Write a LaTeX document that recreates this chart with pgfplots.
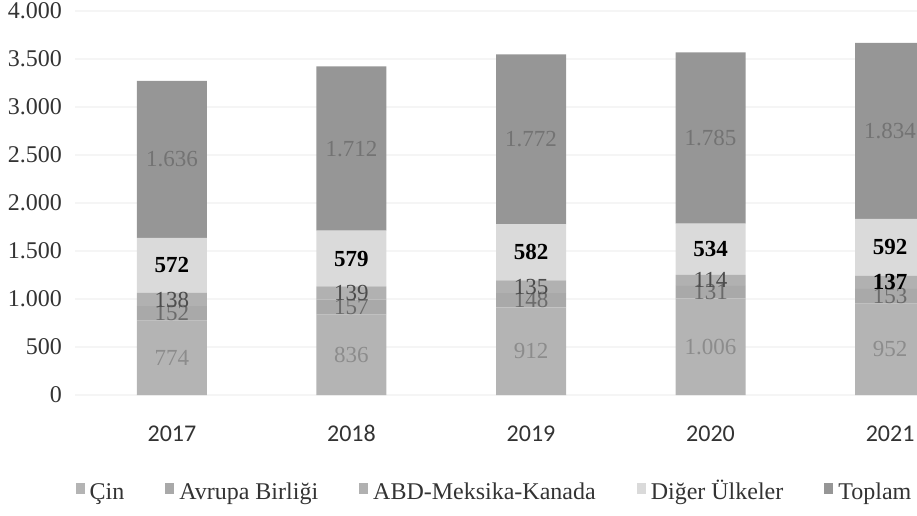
\documentclass[border=0pt]{standalone}
\usepackage{pgfplots}
\pgfplotsset{compat=1.18}
\usepackage{fontspec}
\setmainfont{Liberation Serif}
\newfontfamily\yearfont{Carlito}
\definecolor{cCin}{HTML}{B4B4B4}
\definecolor{cAB}{HTML}{A9A9A9}
\definecolor{cABD}{HTML}{B1B1B1}
\definecolor{cDiger}{HTML}{DADADA}
\definecolor{cTop}{HTML}{969696}
\pgfplotsset{
  /pgf/number format/1000 sep={.},
  /pgf/number format/assume math mode=true,
  commonaxis/.style={
    at={(37.5pt,60pt)}, anchor=south west,
    scale only axis, width=421pt, height=192pt,
    xmin=-0.54, xmax=4.15, ymin=0, ymax=4000,
  },
  lab/.style={only marks, mark=none, nodes near coords, point meta=explicit symbolic,
    every node near coord/.append style={anchor=center, inner sep=0pt, font=\fontsize{11.5}{13}\selectfont}},
}
\pgfplotstableread{
x y lab
0 387 774
1 418 836
2 456 912
3 503 1.006
4 476 952
}\labCin
\pgfplotstableread{
x y lab
0 850 152
1 914.5 157
2 986 148
3 1071.5 131
4 1028.5 153
}\labAB
\pgfplotstableread{
x y lab
0 995 138
1 1062.5 139
2 1127.5 135
3 1194 114
}\labABD
\pgfplotstableread{
x y lab
0 1350 572
1 1421.5 579
2 1486 582
3 1518 534
4 1538 592
}\labDiger
\pgfplotstableread{
x y lab
0 2454 1.636
1 2567 1.712
2 2663 1.772
3 2677.5 1.785
4 2751 1.834
}\labTop
\begin{document}
\begin{tikzpicture}
\useasboundingbox (0,0) rectangle (458.5pt,257.5pt);
\begin{axis}[
  commonaxis,
  ybar stacked, bar width=35pt,
  axis line style={draw=none}, major tick length=0pt,
  ymajorgrids, grid style={black!4, line width=0.8pt},
  scaled y ticks=false,
  ytick={0,500,...,4000},
  xtick={0,1,2,3,4}, xticklabels={2017,2018,2019,2020,2021},
  yticklabel style={font=\fontsize{12}{14}\selectfont, text=black!80, xshift=-3pt},
  xticklabel style={font=\yearfont\fontsize{12}{14}\selectfont, text=black!80, yshift=-11pt, text height=8.5pt, text depth=0pt},
  legend columns=5,
  legend style={at={(0.5,-0.2565)}, anchor=center, draw=none, fill=none,
    font=\fontsize{12}{14}\selectfont, text=black!80,
    nodes={text height=9pt, text depth=3pt, inner xsep=2.5pt},
    /tikz/every even column/.append style={column sep=18pt}},
  legend image code/.code={\fill[#1] (0pt,-0.5pt) rectangle (4.5pt,5pt);},
]
\addplot[fill=cCin, draw=none] coordinates {(0,774) (1,836) (2,912) (3,1006) (4,952)};
\addlegendentry{Çin}
\addplot[fill=cAB, draw=none] coordinates {(0,152) (1,157) (2,148) (3,131) (4,153)};
\addlegendentry{Avrupa Birliği}
\addplot[fill=cABD, draw=none] coordinates {(0,138) (1,139) (2,135) (3,114) (4,137)};
\addlegendentry{ABD-Meksika-Kanada}
\addplot[fill=cDiger, draw=none] coordinates {(0,572) (1,579) (2,582) (3,534) (4,592)};
\addlegendentry{Diğer Ülkeler}
\addplot[fill=cTop, draw=none] coordinates {(0,1636) (1,1712) (2,1772) (3,1785) (4,1834)};
\addlegendentry{Toplam}
\end{axis}
\begin{axis}[commonaxis, hide axis, clip=false]
\addplot[lab, nodes near coords style={text=black!45}] table[meta=lab] {\labCin};
\addplot[lab, nodes near coords style={text=black!58}] table[meta=lab] {\labAB};
\addplot[lab, nodes near coords style={text=black!70}] table[meta=lab] {\labABD};
\addplot[lab, nodes near coords style={text=black, font=\bfseries\fontsize{11.5}{13}\selectfont}] coordinates {(4,1173.5)[137]};
\addplot[lab, nodes near coords style={text=black, font=\bfseries\fontsize{11.5}{13}\selectfont}] table[meta=lab] {\labDiger};
\addplot[lab, nodes near coords style={text=black!55}] table[meta=lab] {\labTop};
\end{axis}
\end{tikzpicture}
\end{document}
